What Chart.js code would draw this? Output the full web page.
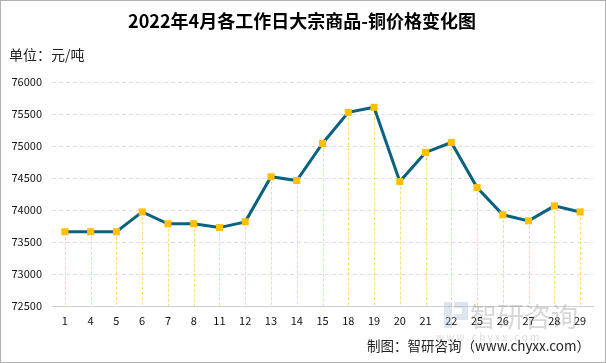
<!DOCTYPE html>
<html>
<head>
<meta charset="utf-8">
<script src="https://cdn.jsdelivr.net/npm/chart.js@4/dist/chart.umd.min.js"></script>
<style>
  html, body { margin: 0; padding: 0; background: #fff; }
  #wrap { width: 606px; height: 363px; position: relative; }
</style>
</head>
<body>
<div id="wrap"><canvas id="chart"></canvas></div>
<script>
const days = ["1", "4", "5", "6", "7", "8", "11", "12", "13", "14", "15", "18", "19", "20", "21", "22", "25", "26", "27", "28", "29"];
const prices = [73660, 73660, 73660, 73970, 73785, 73785, 73725, 73815, 74520, 74460, 75040, 75525, 75605, 74445, 74900, 75055, 74350, 73925, 73830, 74065, 73970];
const yTicks = [72500, 73000, 73500, 74000, 74500, 75000, 75500, 76000];

const titleText = "2022年4月各工作日大宗商品-铜价格变化图";
const unitText = "单位：元/吨";
const sourceText = "制图：智研咨询（www.chyxx.com）";

const font = "'Microsoft YaHei', 'Noto Sans CJK SC', sans-serif";

// drop lines, texts and the watermark
const extras = {
  id: "extras",
  beforeDatasetsDraw(chart) {
    const ctx = chart.ctx;
    const meta = chart.getDatasetMeta(0);
    const bottom = chart.chartArea.bottom;
    ctx.save();
    ctx.strokeStyle = "rgba(255, 192, 0, 0.55)";
    ctx.lineWidth = 1;
    ctx.setLineDash([3, 2]);
    meta.data.forEach(pt => {
      ctx.beginPath();
      ctx.moveTo(Math.round(pt.x) + 0.5, pt.y);
      ctx.lineTo(Math.round(pt.x) + 0.5, bottom);
      ctx.stroke();
    });
    ctx.restore();
  },
  afterDraw(chart) {
    const ctx = chart.ctx;
    ctx.save();
    // watermark
    ctx.fillStyle = "rgba(150, 170, 200, 0.3)";
    ctx.fillRect(444, 302, 8, 26);
    ctx.fillRect(454, 302, 14, 6);
    ctx.fillRect(462, 308, 6, 12);
    ctx.fillRect(454, 314, 8, 6);
    ctx.fillStyle = "rgba(140, 140, 140, 0.35)";
    ctx.font = "27px " + font;
    ctx.textBaseline = "alphabetic";
    ctx.textAlign = "left";
    ctx.fillText("智研咨询", 470, 327);
    ctx.font = "10px " + font;
    ctx.fillStyle = "rgba(150, 150, 150, 0.35)";
    ctx.fillText("w w w . c h y x x . c o m", 436, 341);

    ctx.fillStyle = "#000";
    ctx.font = "bold 18px " + font;
    ctx.textAlign = "center";
    ctx.textBaseline = "middle";
    ctx.fillText(titleText, 302, 21);
    ctx.font = "14px " + font;
    ctx.textAlign = "left";
    ctx.fillStyle = "#222";
    ctx.fillText(unitText, 9, 55);
    ctx.font = "13.5px " + font;
    ctx.textAlign = "right";
    ctx.fillText(sourceText, 590, 346);

    // outer frame
    ctx.strokeStyle = "#b0b0b0";
    ctx.lineWidth = 1;
    ctx.setLineDash([]);
    ctx.strokeRect(0.5, 0.5, chart.width - 1, chart.height - 1);
    ctx.restore();
  }
};

new Chart(document.getElementById("chart"), {
  type: "line",
  data: {
    labels: days,
    datasets: [{
      data: prices,
      borderColor: "#0b6280",
      borderWidth: 3,
      pointStyle: "rect",
      pointRadius: 5,
      pointHoverRadius: 5,
      pointBackgroundColor: "#ffc000",
      pointBorderColor: "#ffc000",
      pointBorderWidth: 0,
      tension: 0
    }]
  },
  options: {
    responsive: true,
    maintainAspectRatio: false,
    animation: false,
    layout: { padding: { top: 82, right: 13, bottom: 0, left: 0 } },
    plugins: {
      legend: { display: false },
      title: { display: false },
      tooltip: { enabled: false }
    },
    scales: {
      x: {
        offset: true,
        grid: { display: false, drawTicks: false },
        border: { color: "#d0d0d0", width: 1 },
        ticks: { color: "#111", font: { size: 11, family: font }, padding: 8, maxRotation: 0, autoSkip: false },
        afterFit: s => { s.height = 57; }
      },
      y: {
        min: 72500,
        max: 76000,
        afterBuildTicks: s => { s.ticks = yTicks.map(v => ({ value: v })); },
        grid: { color: "#e0e0e0", drawTicks: false },
        border: { display: false, dash: [4, 3] },
        ticks: { color: "#111", font: { size: 11, family: font }, padding: 10, callback: v => String(v) },
        afterFit: s => { s.width = 52; }
      }
    }
  },
  plugins: [extras]
});
</script>
</body>
</html>
